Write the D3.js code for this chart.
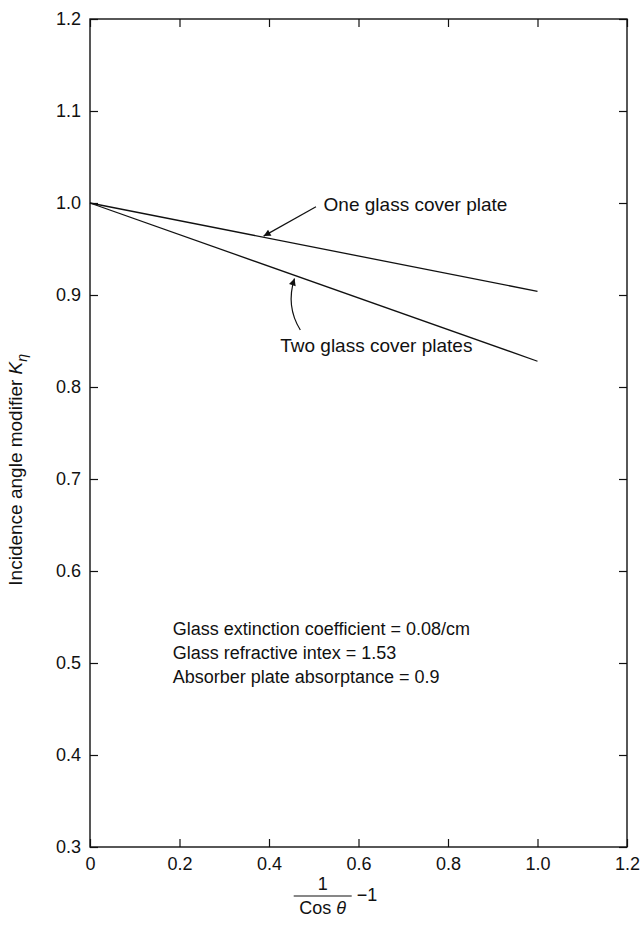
<!DOCTYPE html>
<html>
<head>
<meta charset="utf-8">
<script src="https://cdn.jsdelivr.net/npm/d3@7"></script>
<style>
  body { margin:0; background:#fff; }
  text { font-family: "Liberation Sans", Arial, sans-serif; fill:#111; }
</style>
</head>
<body>
<div id="chart"></div>
<script>
// values
const xTicks = [0, 0.2, 0.4, 0.6, 0.8, 1.0, 1.2]
const yTicks = [0.3, 0.4, 0.5, 0.6, 0.7, 0.8, 0.9, 1.0, 1.1, 1.2]
const oneCover = [[0, 1.0], [1.0, 0.904]]
const twoCovers = [[0, 1.0], [1.0, 0.828]]
const notes = ["Glass extinction coefficient = 0.08/cm",
               "Glass refractive intex = 1.53",
               "Absorber plate absorptance = 0.9"]

let width = 641, height = 927,
    margin = {top:19, left:90, right:14, bottom:80},
    w = width - margin.left - margin.right,
    h = height - margin.top - margin.bottom

const x = d3.scaleLinear().domain([0, 1.2]).range([0, w])
const y = d3.scaleLinear().domain([0.3, 1.2]).range([h, 0])

const svg = d3.select("#chart").append("svg")
  .attr("width", width).attr("height", height)
  .style("background-color", "#fff")

svg.append("defs").append("marker")
  .attr("id", "head").attr("viewBox", "0 0 10 10")
  .attr("refX", 10).attr("refY", 5)
  .attr("markerWidth", 12).attr("markerHeight", 7)
  .attr("markerUnits", "userSpaceOnUse")
  .attr("orient", "auto")
  .append("path").attr("d", "M0,0L10,5L0,10Z").attr("fill", "#111")

const g = svg.append("g").attr("transform", `translate(${margin.left},${margin.top})`)

const tick = 8
// inward ticks on all four sides
let xB = g.append("g").attr("transform", `translate(0,${h})`)
  .call(d3.axisBottom(x).tickValues(xTicks).tickSize(-tick).tickPadding(10)
    .tickFormat(d => d === 0 ? "0" : d3.format(".1f")(d)))
let xT = g.append("g").call(d3.axisTop(x).tickValues(xTicks).tickSize(-tick).tickFormat(""))
let yL = g.append("g")
  .call(d3.axisLeft(y).tickValues(yTicks).tickSize(-tick).tickPadding(9).tickFormat(d3.format(".1f")))
let yR = g.append("g").attr("transform", `translate(${w},0)`)
  .call(d3.axisRight(y).tickValues(yTicks).tickSize(-tick).tickFormat(""))

g.selectAll(".domain").remove()
g.selectAll(".tick line").attr("stroke", "#111").attr("stroke-width", 1.2)
g.selectAll(".tick text").style("font-size", "18px").attr("fill", "#111")

g.append("rect").attr("width", w).attr("height", h)
  .attr("fill", "none").attr("stroke", "#111").attr("stroke-width", 1.4)

const line = d3.line().x(d => x(d[0])).y(d => y(d[1]))
g.append("path").datum(oneCover).attr("d", line)
  .attr("fill", "none").attr("stroke", "#111").attr("stroke-width", 1.3)
g.append("path").datum(twoCovers).attr("d", line)
  .attr("fill", "none").attr("stroke", "#111").attr("stroke-width", 1.3)

// labels with arrows
g.append("text").attr("x", x(0.522)).attr("y", y(0.998)).attr("dy", "0.35em")
  .style("font-size", "19px").text("One glass cover plate")
g.append("path")
  .attr("d", `M${x(0.505)},${y(0.996)}L${x(0.388)},${y(0.964)}`)
  .attr("stroke", "#111").attr("stroke-width", 1.2).attr("fill", "none")
  .attr("marker-end", "url(#head)")

g.append("text").attr("x", x(0.425)).attr("y", y(0.845)).attr("dy", "0.35em")
  .style("font-size", "19px").text("Two glass cover plates")
g.append("path")
  .attr("d", `M${x(0.47)},${y(0.862)}Q${x(0.437)},${y(0.888)} ${x(0.457)},${y(0.918)}`)
  .attr("stroke", "#111").attr("stroke-width", 1.2).attr("fill", "none")
  .attr("marker-end", "url(#head)")

g.append("g").selectAll("text").data(notes).enter().append("text")
  .attr("x", x(0.185)).attr("y", (d, i) => y(0.537) + i * 24).attr("dy", "0.35em")
  .style("font-size", "18px").text(d => d)

// y axis title
const yt = svg.append("text")
  .attr("transform", `translate(22,${margin.top + y(0.71)}) rotate(-90)`)
  .attr("text-anchor", "middle").style("font-size", "19px")
yt.append("tspan").text("Incidence angle modifier ")
yt.append("tspan").style("font-style", "italic").text("K")
yt.append("tspan").style("font-style", "italic").style("font-size", "14px").attr("dy", 5).text("η")

// x axis title: 1 / Cos θ  −1
const fx = margin.left + x(0.52), fy = margin.top + h + 49
svg.append("text").attr("x", fx).attr("y", fy - 6).attr("text-anchor", "middle")
  .style("font-size", "18px").text("1")
svg.append("line").attr("x1", fx - 29).attr("x2", fx + 29).attr("y1", fy).attr("y2", fy)
  .attr("stroke", "#111").attr("stroke-width", 1.2)
const cos = svg.append("text").attr("x", fx).attr("y", fy + 18).attr("text-anchor", "middle")
  .style("font-size", "18px")
cos.append("tspan").text("Cos ")
cos.append("tspan").style("font-style", "italic").text("θ")
svg.append("text").attr("x", fx + 34).attr("y", fy + 5)
  .style("font-size", "18px").text("−1")
</script>
</body>
</html>
